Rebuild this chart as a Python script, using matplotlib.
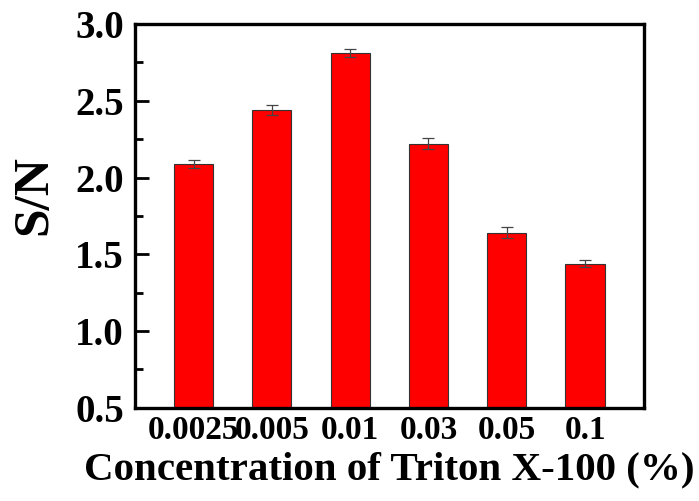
import numpy as np
import matplotlib.pyplot as plt
from matplotlib.ticker import MultipleLocator

# data
labels = ["0.0025", "0.005", "0.01", "0.03", "0.05", "0.1"]
sn = [2.09, 2.44, 2.81, 2.22, 1.64, 1.44]
sn_err = [0.027, 0.03, 0.025, 0.035, 0.037, 0.02]

plt.rcParams["font.family"] = ["Liberation Serif", "DejaVu Serif"]
plt.rcParams["font.weight"] = "bold"

fig = plt.figure(figsize=(6.99, 5.01), dpi=100)
ax = fig.add_axes([0.193, 0.186, 0.728, 0.766])

x = np.arange(len(labels))
ax.bar(x, sn, width=0.5, color="#ff0000", edgecolor="#333333", linewidth=0.8,
       yerr=sn_err, error_kw=dict(ecolor="#444444", elinewidth=0.9, capsize=4, capthick=0.9),
       zorder=2)

ax.set_xlim(-0.75, len(labels) - 0.25)
ax.set_ylim(0.5, 3.0)
ax.set_xticks(x)
ax.set_xticklabels(labels, fontsize=24, fontweight="bold")
ax.yaxis.set_major_locator(MultipleLocator(0.5))
ax.yaxis.set_minor_locator(MultipleLocator(0.25))
ax.set_yticklabels([f"{v:.1f}" for v in ax.get_yticks()], fontsize=28, fontweight="bold")

ax.tick_params(axis="y", which="major", direction="in", length=10, width=2, pad=8)
ax.tick_params(axis="y", which="minor", direction="in", length=6, width=2)
ax.tick_params(axis="x", which="both", length=0, pad=5)

for s in ax.spines.values():
    s.set_linewidth(2.4)

ax.set_xlabel("Concentration of Triton X-100 (%)", fontsize=29.5, fontweight="bold", labelpad=4)
ax.set_ylabel("S/N", fontsize=37, fontweight="bold")
ax.yaxis.set_label_coords(-0.152, 0.555)

fig.savefig("out.png", dpi=100)
